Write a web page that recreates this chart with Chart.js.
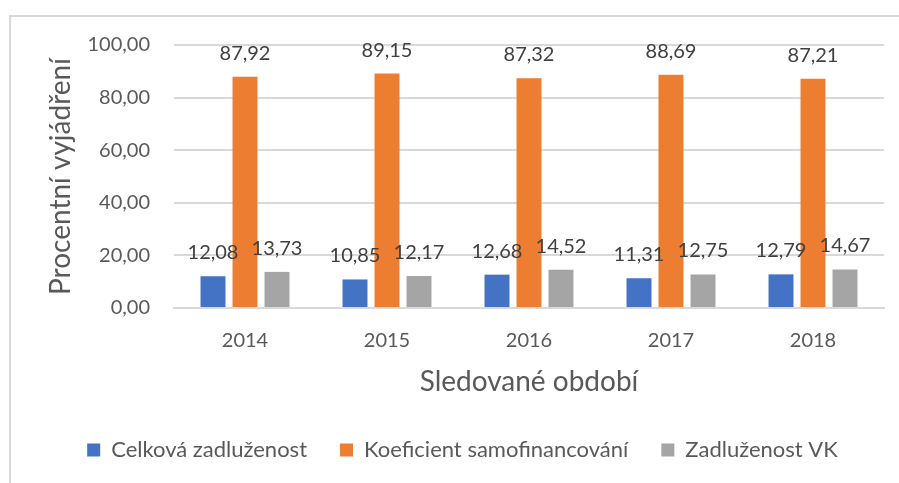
<!DOCTYPE html>
<html>
<head>
<meta charset="utf-8">
<script src="https://cdn.jsdelivr.net/npm/chart.js@4"></script>
<style>
  body { margin: 0; background: #fff; }
  #frame {
    position: absolute; left: 9px; top: 15px; width: 888px; height: 466px;
    border-top: 2px solid #d9d9d9; border-left: 2px solid #d9d9d9;
  }
</style>
</head>
<body>
<div id="frame"><canvas id="chart" width="888" height="466"></canvas></div>
<script>
/* =================================================
  Data
==================================================== */

const years = ["2014", "2015", "2016", "2017", "2018"];
const celkovaZadluzenost = [12.08, 10.85, 12.68, 11.31, 12.79];
const koeficientSamofinancovani = [87.92, 89.15, 87.32, 88.69, 87.21];
const zadluzenostVK = [13.73, 12.17, 14.52, 12.75, 14.67];

const fmt = v => Number(v).toFixed(2).replace('.', ',');

/* =================================================
  Data labels above the bars
==================================================== */

const valueLabels = {
  id: 'valueLabels',
  afterDatasetsDraw(chart) {
    const ctx = chart.ctx;
    ctx.save();
    ctx.font = '20px Lato';
    ctx.fillStyle = '#404040';
    ctx.textAlign = 'center';
    ctx.textBaseline = 'alphabetic';
    chart.data.datasets.forEach((ds, i) => {
      chart.getDatasetMeta(i).data.forEach((bar, j) => {
        ctx.fillText(fmt(ds.data[j]), bar.x, bar.y - 17);
      });
    });
    ctx.restore();
  }
};

/* =================================================
  Bar chart
==================================================== */

const chartData = {
  labels: years,
  datasets: [{
    label: 'Celková zadluženost',
    data: celkovaZadluzenost,
    backgroundColor: '#4472C4'
  }, {
    label: 'Koeficient samofinancování',
    data: koeficientSamofinancovani,
    backgroundColor: '#ED7D31'
  }, {
    label: 'Zadluženost VK',
    data: zadluzenostVK,
    backgroundColor: '#A5A5A5'
  }]
};

const chartOptions = {
  responsive: false,
  animation: false,
  categoryPercentage: 0.676,
  barPercentage: 0.78,
  layout: {
    padding: { top: 28, right: 15, bottom: 12, left: 30 }
  },
  scales: {
    x: {
      grid: { display: false, drawTicks: false },
      border: { color: '#d9d9d9', width: 2 },
      ticks: { color: '#595959', font: { family: 'Lato', size: 20 }, padding: 21 },
      title: {
        display: true,
        text: 'Sledované období',
        color: '#595959',
        font: { family: 'Lato', size: 28 },
        padding: { top: 4, bottom: 7 }
      },
      afterFit: scale => { scale.height = 98; }
    },
    y: {
      min: 0,
      max: 100,
      ticks: {
        stepSize: 20,
        color: '#595959',
        font: { family: 'Lato', size: 20 },
        padding: 24,
        callback: v => fmt(v)
      },
      grid: { color: '#d9d9d9', lineWidth: 2, drawTicks: false },
      border: { display: false },
      title: {
        display: true,
        text: 'Procentní vyjádření',
        color: '#595959',
        font: { family: 'Lato', size: 28 },
        padding: { top: 3, bottom: 0 }
      },
      afterFit: scale => {
        scale.width = 133;
        scale.paddingTop = 0;
      }
    }
  },
  plugins: {
    legend: {
      position: 'bottom',
      labels: {
        color: '#595959',
        font: { family: 'Lato', size: 22 },
        boxWidth: 13,
        boxHeight: 13,
        padding: 33
      }
    },
    tooltip: { enabled: false }
  }
};

new Chart(document.getElementById('chart'), {
  type: 'bar',
  data: chartData,
  options: chartOptions,
  plugins: [valueLabels]
});
</script>
</body>
</html>
